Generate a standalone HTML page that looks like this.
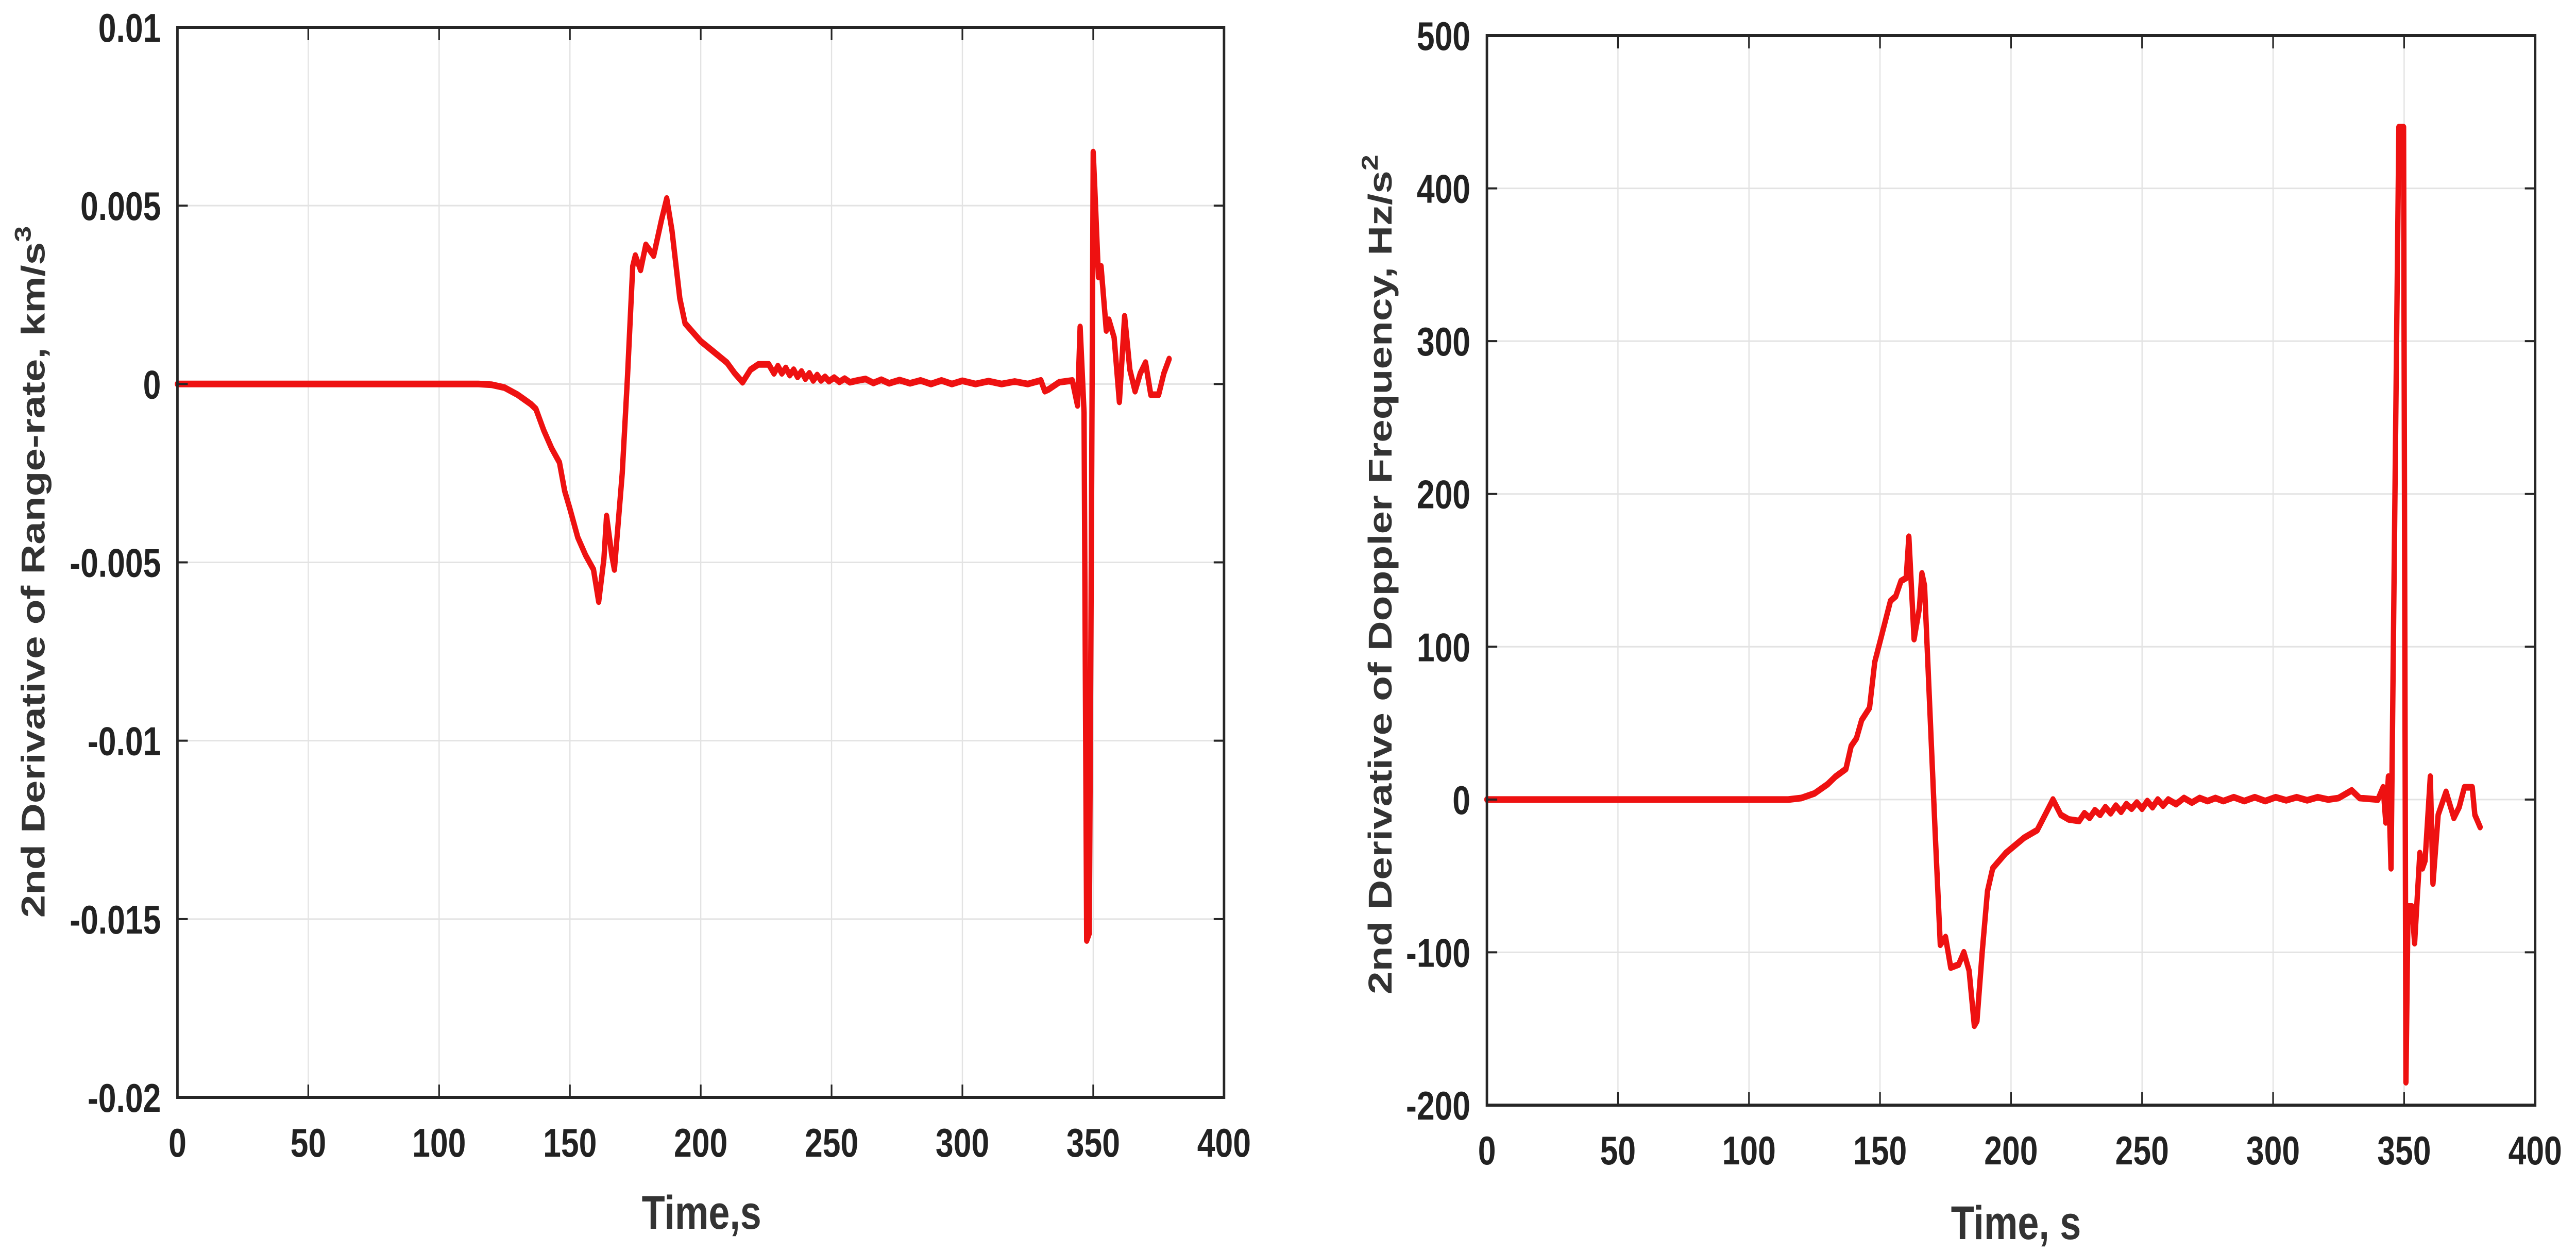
<!DOCTYPE html>
<html><head><meta charset="utf-8"><style>
html,body{margin:0;padding:0;background:#fff;width:100%;height:100%;overflow:hidden;}
svg{display:block;width:100vw;height:100vh;font-family:"Liberation Sans",Arial,sans-serif;font-weight:bold;}
</style></head><body>
<svg id="chart" viewBox="0 0 6242 2432" preserveAspectRatio="none" xmlns="http://www.w3.org/2000/svg"></svg>
<script>
// X ticks shared
const xTicks = [0,50,100,150,200,250,300,350,400];
// Left chart data (range-rate 2nd derivative, units 1e-3 km/s^3)
const leftTicks = [0.01,0.005,0,-0.005,-0.01,-0.015,-0.02];
const leftTickLabels = ["0.01","0.005","0","-0.005","-0.01","-0.015","-0.02"];
const leftT = [0,50,100,115,120,125,130,135,137,140,143,146,148,150,153,156,159,161,163,164,166,167,170,172,174,175,177,179,182,185,187,189,192,194,200,205,210,213,216,219,222,226,228,229.5,231,232.5,234,235.5,237,238.5,240,241.5,243,244.5,246,247.5,249,251,253,255,257,260,263,266,269,272,276,280,284,288,292,296,300,305,310,315,320,325,330,331.5,333,337,342,344,345,346.5,347.5,348.5,349.2,350,350.6,352,353,355,356,358,360,362,364,366,368,370,372,375,377,379];
const leftV = [0,0,0,0,-0.02,-0.1,-0.3,-0.56,-0.7,-1.3,-1.8,-2.2,-3.0,-3.5,-4.3,-4.8,-5.2,-6.1,-4.9,-3.7,-4.8,-5.2,-2.5,0.2,3.3,3.6,3.2,3.9,3.6,4.6,5.2,4.3,2.4,1.7,1.2,0.9,0.6,0.3,0.05,0.4,0.55,0.55,0.3,0.5,0.3,0.45,0.25,0.4,0.2,0.35,0.15,0.3,0.1,0.25,0.1,0.2,0.08,0.18,0.06,0.15,0.05,0.1,0.14,0.03,0.12,0.02,0.11,0.02,0.1,0.0,0.1,0.0,0.09,0.0,0.08,0.0,0.07,0.0,0.1,-0.2,-0.15,0.05,0.1,-0.6,1.6,-0.8,-15.6,-15.4,-6,6.5,5.5,3,3.3,1.5,1.8,1.3,-0.5,1.9,0.4,-0.2,0.3,0.6,-0.3,-0.3,0.3,0.7];
// Right chart data (Doppler 2nd derivative, Hz/s^2)
const rightTicks = [500,400,300,200,100,0,-100,-200];
const rightTickLabels = ["500","400","300","200","100","0","-100","-200"];
const rightT = [0,50,100,115,120,125,130,133,137,139,141,143,146,148,151,154,156,158,160,161,163,165,166,167,169,171,173,175,177,180,182,184,186,187,189,191,193,198,205,210,213,216,219,222,226,228,230,232,234,236,238,240,242,244,246,248,250,252,254,256,258,260,263,266,269,272,275,278,281,285,289,293,297,301,305,309,313,317,321,325,330,333,340,342,343,344,345,346.5,348,349.8,350.7,351.5,353,354,356,357,358,360,361,363,366,369,371,373,376,377,379];
const rightV = [0,0,0,0,1,4,10,15,20,35,40,52,60,90,110,130,133,143,145,172,105,125,148,140,60,-20,-95,-90,-110,-108,-100,-112,-148,-145,-100,-60,-45,-35,-25,-20,-10,0,-10,-13,-14,-9,-12,-7,-10,-5,-9,-4,-8,-3,-6,-2,-6,-1,-5,0,-4,0,-3,1,-2,1,-1,1,-1,1.5,-1,1.5,-1,1.5,-0.5,1.5,-0.5,1.5,0,1,6,1,0,8,-15,15,-45,200,440,440,-185,-70,-70,-94,-35,-45,-40,15,-55,-10,5,-12,-5,8,8,-10,-18];

const NS="http://www.w3.org/2000/svg";
const svg=document.getElementById('chart');
function mk(tag,attrs,parent){const e=document.createElementNS(NS,tag);for(const k in attrs)e.setAttribute(k,attrs[k]);(parent||svg).appendChild(e);return e;}

function drawPlot(cfg){
  const g=mk('g',{});
  
  
  const {x0,x1,y0,y1,ymin,ymax}=cfg;
  const sx=t=>x0+(t-0)/(400-0)*(x1-x0);
  const sy=v=>y1-(v-ymin)/(ymax-ymin)*(y1-y0);
  xTicks.forEach(t=>{
    const l=mk('line',{x1:sx(t),x2:sx(t),y1:y0,y2:y1,stroke:'#e3e3e3','stroke-width':3},g);
    
    
  });
  cfg.ticks.forEach(v=>{
    const l=mk('line',{x1:x0,x2:x1,y1:sy(v),y2:sy(v),stroke:'#e3e3e3','stroke-width':3},g);
    
    
  });
  let d='';
  cfg.T.forEach((t,i)=>{d+=(i?'L':'M')+sx(t).toFixed(1)+','+sy(cfg.V[i]*cfg.scale).toFixed(1);});
  const p=mk('path',{d:d,fill:'none',stroke:'#ee1111','stroke-width':13,'stroke-linejoin':'round','stroke-linecap':'round'},g);
  
  
  const r=mk('rect',{x:x0,y:y0,width:x1-x0,height:y1-y0,fill:'none',stroke:'#262626','stroke-width':6},g);
  
  
  xTicks.forEach(t=>{
    mk('line',{x1:sx(t),x2:sx(t),y1:y1,y2:y1-25,stroke:'#262626','stroke-width':4},g);
    mk('line',{x1:sx(t),x2:sx(t),y1:y0,y2:y0+25,stroke:'#262626','stroke-width':4},g);
    const tx=mk('text',{x:sx(t),y:y1+115,'text-anchor':'middle','font-size':78,fill:'#222'},g);
    tx.textContent=String(t);
    
    
  });
  cfg.ticks.forEach((v,i)=>{
    mk('line',{x1:x0,x2:x0+25,y1:sy(v),y2:sy(v),stroke:'#262626','stroke-width':4},g);
    mk('line',{x1:x1,x2:x1-25,y1:sy(v),y2:sy(v),stroke:'#262626','stroke-width':4},g);
    const tx=mk('text',{x:x0-40,y:sy(v)+28,'text-anchor':'end','font-size':78,fill:'#222'},g);
    tx.textContent=cfg.tickLabels[i];
    
    
  });
  const xt=mk('text',{x:cfg.xtx,y:cfg.xty,'text-anchor':'middle','font-size':92,fill:'#333'},g);
  xt.textContent=cfg.xtitle;
  
  
  const yt=mk('text',{transform:`translate(${cfg.ytx},${cfg.yty}) rotate(-90)`,'text-anchor':'middle','font-size':80,fill:'#333'},g);
  
  
  const s1=mk('tspan',{},yt); s1.textContent=cfg.ytitle;
  const s2=mk('tspan',{dy:-34,'font-size':56},yt); s2.textContent=cfg.ysup;
}

drawPlot({name:'left-chart',x0:430,x1:2966,y0:53,y1:2130,ymin:-0.02,ymax:0.01,ticks:leftTicks,tickLabels:leftTickLabels,
  T:leftT,V:leftV,scale:0.001,xtitle:'Time,s',xtx:1700,xty:2385,ytitle:'2nd Derivative of Range-rate, km/s',ysup:'3',ytx:108,yty:1110});
drawPlot({name:'right-chart',x0:3603,x1:6143,y0:69,y1:2145,ymin:-200,ymax:500,ticks:rightTicks,tickLabels:rightTickLabels,
  T:rightT,V:rightV,scale:1,xtitle:'Time, s',xtx:4885,xty:2405,ytitle:'2nd Derivative of Doppler Frequency, Hz/s',ysup:'2',ytx:3372,yty:1115});
</script>
</body></html>
